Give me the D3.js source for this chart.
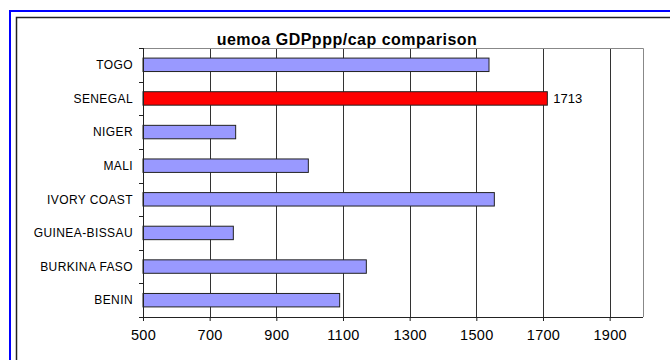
<!DOCTYPE html>
<html>
<head>
<meta charset="utf-8">
<script src="https://cdn.jsdelivr.net/npm/d3@7"></script>
<style>
  body { margin: 0; background: #fff; }
  svg { display: block; font-family: Arial, 'Liberation Sans', sans-serif; }
</style>
</head>
<body>
<div id="chart"></div>
<script>
const countries = ['TOGO', 'SENEGAL', 'NIGER', 'MALI', 'IVORY COAST', 'GUINEA-BISSAU', 'BURKINA FASO', 'BENIN'];
const gdpPerCap = [1538, 1713, 778, 996, 1554, 771, 1170, 1090];
const xTicks = [500, 700, 900, 1100, 1300, 1500, 1700, 1900];
const highlight = 'SENEGAL';

const width = 670, height = 360;
const margin = { top: 48, right: 27, bottom: 43, left: 143 };
const innerW = width - margin.left - margin.right;
const innerH = height - margin.top - margin.bottom;

const svg = d3.select('#chart').append('svg')
  .attr('width', width)
  .attr('height', height);

// outer frames
svg.append('rect').attr('x', 10).attr('y', 11).attr('width', 680).attr('height', 400)
  .attr('fill', 'none').attr('stroke', '#0000ff').attr('stroke-width', 2);
svg.append('rect').attr('x', 16.5).attr('y', 17.5).attr('width', 680).attr('height', 400)
  .attr('fill', 'none').attr('stroke', '#222').attr('stroke-width', 1.5);

const g = svg.append('g').attr('transform', 'translate(' + margin.left + ',' + margin.top + ')');

const x = d3.scaleLinear().domain([500, 2000]).range([0, innerW]);
const y = d3.scaleBand().domain(countries).range([0, innerH]).paddingInner(0.6).paddingOuter(0.3);
const yEdge = d3.scaleLinear().domain([0, countries.length]).range([0, innerH]);

// grid
g.selectAll('.grid')
  .data(xTicks.slice(1))
  .enter()
  .append('line')
  .attr('x1', (d) => Math.round(x(d)) + 0.5)
  .attr('x2', (d) => Math.round(x(d)) + 0.5)
  .attr('y1', 0)
  .attr('y2', innerH)
  .attr('stroke', '#333')
  .attr('stroke-width', 1);

// plot frame (top & right)
g.append('path')
  .attr('d', 'M0,0.5H' + (innerW + 0.5) + 'V' + innerH)
  .attr('fill', 'none')
  .attr('stroke', '#888');

// bars
g.selectAll('.bar')
  .data(countries)
  .enter()
  .append('rect')
  .attr('x', x(500))
  .attr('y', (d) => y(d))
  .attr('width', (d, i) => x(gdpPerCap[i]) - x(500))
  .attr('height', y.bandwidth())
  .attr('fill', (d) => (d === highlight ? '#ff0000' : '#9999ff'))
  .attr('stroke', '#222')
  .attr('stroke-width', 1);

// value label
const hi = countries.indexOf(highlight);
g.append('text')
  .attr('x', x(gdpPerCap[hi]) + 6)
  .attr('y', y(highlight) + y.bandwidth() / 2)
  .attr('dy', '0.35em')
  .style('font-size', '13px')
  .text(gdpPerCap[hi]);

// x axis
const xAxis = g.append('g')
  .attr('transform', 'translate(0,' + innerH + ')')
  .call(d3.axisBottom(x).tickValues(xTicks).tickFormat(d3.format('d')).tickSize(4).tickPadding(9).tickSizeOuter(0));
xAxis.select('.domain').attr('stroke', '#222').attr('d', 'M0,0.5H' + innerW);
xAxis.selectAll('.tick line').attr('stroke', '#222');
xAxis.selectAll('text').style('font-size', '14.5px').style('font-family', 'Arial, Liberation Sans, sans-serif')
  .style('letter-spacing', '0.3px').attr('fill', '#000');

// y axis
const yAxisG = g.append('g');
yAxisG.append('line')
  .attr('x1', 0.5).attr('x2', 0.5).attr('y1', 0).attr('y2', innerH + 4)
  .attr('stroke', '#222');
yAxisG.selectAll('.ytick')
  .data(d3.range(countries.length + 1))
  .enter()
  .append('line')
  .attr('x1', -4).attr('x2', 0)
  .attr('y1', (d) => Math.round(yEdge(d)) + 0.5)
  .attr('y2', (d) => Math.round(yEdge(d)) + 0.5)
  .attr('stroke', '#222');
yAxisG.selectAll('.ylabel')
  .data(countries)
  .enter()
  .append('text')
  .attr('x', -10)
  .attr('y', (d) => y(d) + y.bandwidth() / 2)
  .attr('dy', '0.35em')
  .attr('text-anchor', 'end')
  .style('font-size', '12px')
  .style('letter-spacing', '0.4px')
  .text((d) => d);

// title
svg.append('text')
  .attr('x', 347)
  .attr('y', 45)
  .attr('text-anchor', 'middle')
  .style('font-size', '16px')
  .style('font-weight', 'bold')
  .style('letter-spacing', '0.5px')
  .text('uemoa GDPppp/cap comparison');
</script>
</body>
</html>
